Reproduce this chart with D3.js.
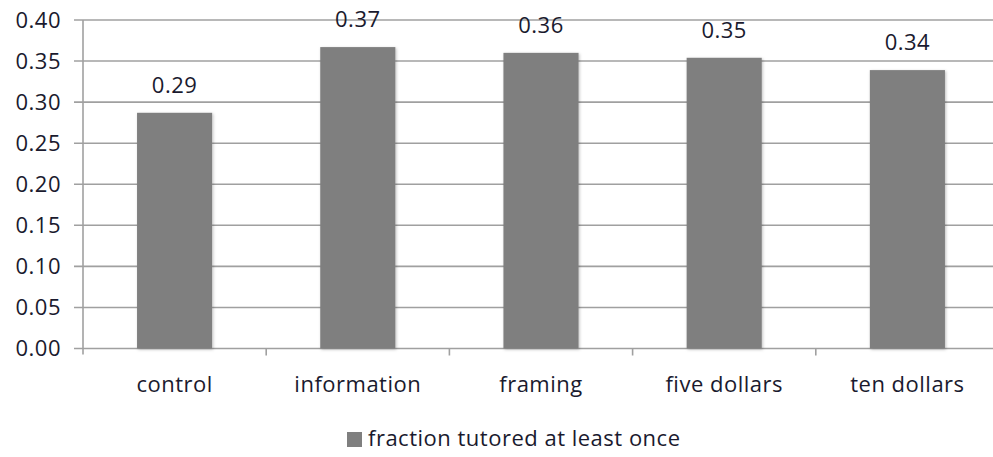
<!DOCTYPE html>
<html>
<head>
<meta charset="utf-8">
<script src="https://cdn.jsdelivr.net/npm/d3@7"></script>
<style>
    body { margin: 0; background: #fff; }
    svg { display: block; }
</style>
</head>
<body>
<svg id="chart"></svg>
<script>
// chart data
const categories = ['control', 'information', 'framing', 'five dollars', 'ten dollars'];
const values = [0.287, 0.367, 0.360, 0.354, 0.339];
const valueLabels = ['0.29', '0.37', '0.36', '0.35', '0.34'];
const yTicks = [0, 0.05, 0.10, 0.15, 0.20, 0.25, 0.30, 0.35, 0.40];
const seriesName = 'fraction tutored at least once';

const width = 993;
const height = 457;
const font = '"Open Sans", "DejaVu Sans", sans-serif';
const fontSize = 22;
const textColour = '#1a1a2e';

const svg = d3.select('#chart')
    .attr('width', width)
    .attr('height', height)
    .attr('font-family', font)
    .attr('letter-spacing', 0.5);

// plot area runs past the right edge, like the cropped original
const x = d3.scaleBand()
    .domain(categories)
    .range([83, 999])
    .paddingInner(0.59)
    .paddingOuter(0.295);

const y = d3.scaleLinear()
    .domain([0, 0.40])
    .range([348.5, 20]);

// horizontal gridlines with little ticks to the left
svg.append('g')
    .selectAll('line')
    .data(yTicks)
    .enter()
    .append('line')
    .attr('x1', 74)
    .attr('x2', 999)
    .attr('y1', d => y(d))
    .attr('y2', d => y(d))
    .attr('stroke', '#a0a0a0')
    .attr('stroke-width', 1.6);

// y tick labels
svg.append('g')
    .selectAll('text')
    .data(yTicks)
    .enter()
    .append('text')
    .attr('x', 61)
    .attr('y', d => y(d))
    .attr('dy', '0.36em')
    .attr('text-anchor', 'end')
    .attr('font-size', fontSize)
    .attr('fill', textColour)
    .text(d => d.toFixed(2));

// vertical axis line
svg.append('line')
    .attr('x1', 83)
    .attr('x2', 83)
    .attr('y1', y(0.40))
    .attr('y2', y(0) + 6)
    .attr('stroke', '#a0a0a0')
    .attr('stroke-width', 1.6);

// category separator ticks on the x axis
const step = x.step();
svg.append('g')
    .selectAll('line')
    .data(categories.slice(1))
    .enter()
    .append('line')
    .attr('x1', d => x(d) - x.paddingInner() * step / 2)
    .attr('x2', d => x(d) - x.paddingInner() * step / 2)
    .attr('y1', y(0))
    .attr('y2', y(0) + 7)
    .attr('stroke', '#a0a0a0')
    .attr('stroke-width', 1.6);

// soft shadow under the bars
const defs = svg.append('defs');
const shadow = defs.append('filter')
    .attr('id', 'shadow')
    .attr('x', '-20%').attr('y', '-20%')
    .attr('width', '140%').attr('height', '140%');
shadow.append('feDropShadow')
    .attr('dx', 1).attr('dy', 1)
    .attr('stdDeviation', 1.5)
    .attr('flood-color', '#000')
    .attr('flood-opacity', 0.25);

// bars
svg.append('g')
    .selectAll('rect')
    .data(values)
    .enter()
    .append('rect')
    .attr('x', (d, i) => x(categories[i]))
    .attr('y', d => y(d))
    .attr('width', x.bandwidth())
    .attr('height', d => y(0) - y(d))
    .attr('fill', '#7f7f7f')
    .attr('filter', 'url(#shadow)');

// value labels above the bars
svg.append('g')
    .selectAll('text')
    .data(values)
    .enter()
    .append('text')
    .attr('x', (d, i) => x(categories[i]) + x.bandwidth() / 2)
    .attr('y', d => y(d) - 20)
    .attr('text-anchor', 'middle')
    .attr('font-size', fontSize)
    .attr('fill', textColour)
    .text((d, i) => valueLabels[i]);

// category labels
svg.append('g')
    .selectAll('text')
    .data(categories)
    .enter()
    .append('text')
    .attr('x', d => x(d) + x.bandwidth() / 2)
    .attr('y', 392)
    .attr('text-anchor', 'middle')
    .attr('font-size', fontSize)
    .attr('fill', textColour)
    .text(d => d);

// legend
const legend = svg.append('g');
legend.append('rect')
    .attr('x', 347)
    .attr('y', 432)
    .attr('width', 15)
    .attr('height', 15)
    .attr('fill', '#7f7f7f');
legend.append('text')
    .attr('x', 368)
    .attr('y', 446)
    .attr('font-size', fontSize)
    .attr('fill', textColour)
    .text(seriesName);
</script>
</body>
</html>
